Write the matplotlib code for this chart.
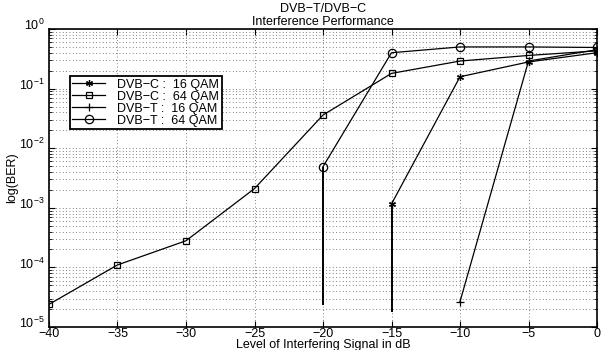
import matplotlib
matplotlib.use("Agg")
import matplotlib.pyplot as plt
import matplotlib.transforms as mtransforms
from matplotlib.ticker import LogLocator, NullFormatter

plt.rcParams['font.family'] = ['Liberation Sans', 'DejaVu Sans']
plt.rcParams['mathtext.fontset'] = 'custom'
plt.rcParams['mathtext.rm'] = 'Liberation Sans'
plt.rcParams['font.size'] = 9

# data
x_c16 = [-15, -10, -5, 0]
ber_c16 = [1.16e-3, 0.158, 0.28, 0.40]
x_c64 = [-40, -35, -30, -25, -20, -15, -10, -5, 0]
ber_c64 = [2.4e-5, 1.1e-4, 2.8e-4, 2.1e-3, 3.6e-2, 0.18, 0.29, 0.36, 0.43]
x_t16 = [-10, -5, 0]
ber_t16 = [2.66e-5, 0.29, 0.45]
x_t64 = [-20, -15, -10, -5, 0]
ber_t64 = [4.9e-3, 0.40, 0.50, 0.50, 0.49]

# vertical drop lines below the first points
stem_x = [-20, -15]
stem_top = [4.9e-3, 1.16e-3]
stem_bottom = [2.3e-5, 1.8e-5]

labels = ['DVB\u2212C :  16 QAM', 'DVB\u2212C :  64 QAM',
          'DVB\u2212T :  16 QAM', 'DVB\u2212T :  64 QAM']

fig = plt.figure(figsize=(6.02, 3.5), dpi=100)
ax = fig.add_axes([49/602, 1-327/350, 548/602, 298/350])

lw = 0.9
ax.semilogy(x_c16, ber_c16, color='k', lw=lw, marker=(6, 2, 0), ms=5, mew=0.9, label=labels[0])
ax.semilogy(x_c64, ber_c64, color='k', lw=lw, marker='s', ms=4.5, mfc='none', mew=0.9, label=labels[1])
ax.semilogy(x_t16, ber_t16, color='k', lw=lw, marker='+', ms=6, mew=0.9, label=labels[2])
ax.semilogy(x_t64, ber_t64, color='k', lw=lw, marker='o', ms=6, mfc='none', mew=0.9, label=labels[3])
ax.vlines(stem_x, stem_bottom, stem_top, color='k', lw=1.4)

ax.set_xlim(-40, 0)
ax.set_ylim(1e-5, 1)
ax.set_xticks(range(-40, 1, 5))
ax.set_xticklabels([str(v).replace('-', '\u2212') for v in range(-40, 1, 5)])
ax.yaxis.set_major_locator(LogLocator(base=10, numticks=10))
ax.yaxis.set_minor_locator(LogLocator(base=10, subs=range(2, 10), numticks=10))
ax.yaxis.set_minor_formatter(NullFormatter())

ax.grid(True, which='major', color='0.35', ls=(0, (1, 3)), lw=0.6)
ax.grid(True, which='minor', axis='y', color='0.35', ls=(0, (1, 3)), lw=0.6)
ax.tick_params(which='both', direction='in', top=True, right=True, labelsize=9)
ax.tick_params(which='major', length=4, pad=1)
ax.tick_params(axis='y', which='major', pad=3)
ax.tick_params(which='minor', length=2)
for s in ax.spines.values():
    s.set_linewidth(1.2)

# exponent labels sit a little above their gridline, as in the original
shift = mtransforms.ScaledTranslation(0, 3.5/72, fig.dpi_scale_trans)
for lab in ax.get_yticklabels():
    lab.set_transform(lab.get_transform() + shift)

ax.set_xlabel('Level of Interfering Signal in dB', fontsize=9, labelpad=-1)
ax.set_ylabel('log(BER)', fontsize=9, labelpad=1)
ax.set_title('DVB\u2212T/DVB\u2212C\nInterference Performance', fontsize=9, pad=3, linespacing=1.05)

leg = ax.legend(loc='upper left', bbox_to_anchor=(0.038, 0.842), fontsize=9,
                fancybox=False, framealpha=1, edgecolor='k', handlelength=2.6,
                borderpad=0.2, labelspacing=0.0, handletextpad=1.0, borderaxespad=0)
leg.get_frame().set_linewidth(1.3)

fig.savefig('out.png', dpi=100)
